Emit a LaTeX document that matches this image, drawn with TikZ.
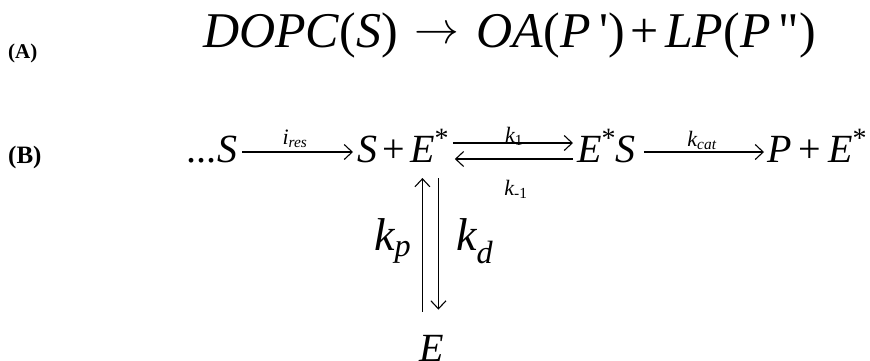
\documentclass[tikz,border=0pt]{standalone}
\usepackage{fontspec}
\setmainfont{Liberation Serif}
\newfontfamily\rawser{Liberation Serif}[Ligatures=TeXOff]
\usetikzlibrary{arrows.meta}
\newcommand\fsz[1]{\fontsize{#1}{#1}\selectfont}
\newcommand\estar{\raisebox{0.36em}{\fsz{28}\upshape *}}
\newcommand\bigto{\raisebox{4pt}{\scalebox{1.8}[1.8]{$\rightarrow$}}}
\begin{document}
\begin{tikzpicture}[x=1pt,y=-1pt,
  txt/.style={inner sep=0pt, anchor=base west},
  big/.style={txt, font=\fsz{40}\itshape},
  lbl/.style={inner sep=0pt, anchor=base, font=\fsz{22}\itshape},
  arr/.style={line width=1.1pt, -{Straight Barb[length=8pt,width=15pt,line width=1.1pt]}},
]
\useasboundingbox (0,0) rectangle (870,360);
% (A)
\node[txt, font=\fsz{21}\bfseries] (lA) at (8,58) {(A)};
\node[txt, font=\fsz{50}] (eqA) at (203,47)
  {\textit{DOPC}(\textit{S})\hspace{16pt}\bigto\hspace{18pt}\textit{OA}(\textit{P}\,{\rawser\symbol{39}})\hspace{6pt}+\hspace{6pt}\textit{LP}(\textit{P}\,{\rawser\symbol{34}})};
% (B)
\node[txt, font=\fsz{25}\bfseries] (lB) at (8,163) {(B)};
\node[big] (s1) at (187,162) {...S};
\node[big] (s2) at (357,162) {S};
\node[big, font=\fsz{40}\upshape] (pl1) at (382,162) {+};
\node[big] (e1) at (410,162) {E\estar};
\node[big] (e2) at (577,162) {E\estar S};
\node[big] (p1) at (767,162) {P};
\node[big, font=\fsz{40}\upshape] (pl2) at (798,162) {+};
\node[big] (e3) at (828,162) {E\estar};
\node[big] (e0) at (419,361) {E};
\node[txt, font=\fsz{46}\itshape] (kp) at (374,250) {k\textsubscript{p}};
\node[txt, font=\fsz{46}\itshape] (kd) at (456,250) {k\textsubscript{d}};
% labels
\node[lbl] (ires) at (295,144) {i\textsubscript{res}};
\node[lbl] (k1) at (514,142) {k\textsubscript{\upshape 1}};
\node[lbl] (km1) at (516,195) {k\textsubscript{\upshape -1}};
\node[lbl] (kcat) at (702,146) {k\textsubscript{cat}};
% arrows
\draw[arr] ([xshift=5pt,yshift=10pt]s1.base east) -- ([xshift=-4pt,yshift=10pt]s2.base west);
\draw[arr] ([xshift=4pt,yshift=19pt]e1.base east) -- ([xshift=-4pt,yshift=19pt]e2.base west);
\draw[arr] ([xshift=-4pt,yshift=3pt]e2.base west) -- ([xshift=6pt,yshift=3pt]e1.base east);
\draw[arr] ([xshift=8pt,yshift=10pt]e2.base east) -- ([xshift=-3pt,yshift=10pt]p1.base west);
\draw[arr] ([xshift=-9pt,yshift=23pt]e0.north) -- ([xshift=-9pt,yshift=-16pt]e0.north |- e1.base);
\draw[arr] ([xshift=7pt,yshift=-16pt]e0.north |- e1.base) -- ([xshift=7pt,yshift=25pt]e0.north);
\end{tikzpicture}
\end{document}
